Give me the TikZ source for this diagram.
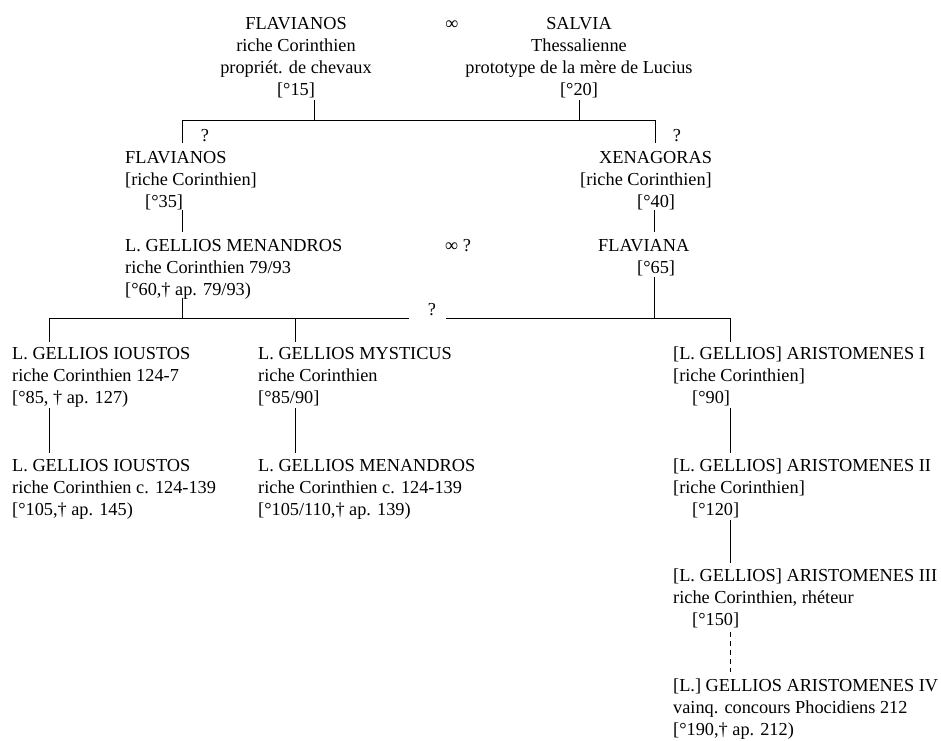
\documentclass[tikz,border=0pt]{standalone}
\usepackage{fontspec}
\setmainfont{Liberation Serif}
\newcommand{\blkL}[1]{\begin{tabular}[t]{@{}l@{}}#1\end{tabular}}
\newcommand{\blkC}[1]{\begin{tabular}[t]{@{}c@{}}#1\end{tabular}}
\begin{document}
\begin{tikzpicture}[x=1pt,y=-1pt,
  every node/.style={inner sep=0pt,font=\fontsize{18.3}{22}\selectfont},
  person/.style={anchor=base west},
  cperson/.style={anchor=base},
  link/.style={line width=0.8pt},
  dlink/.style={line width=0.8pt,dash pattern=on 5pt off 4pt}]
\useasboundingbox (0,0) rectangle (941,740);
% generation 1
\node[cperson] (fl0) at (296,29) {\blkC{FLAVIANOS\\riche Corinthien\\propriét. de chevaux\\{}[°15]}};
\node[cperson] (inf1) at (452,29) {∞};
\node[cperson] (sal) at (579,29) {\blkC{SALVIA\\Thessalienne\\prototype de la mère de Lucius\\{}[°20]}};
\coordinate (a1) at (314,100); \coordinate (a2) at (314,120);
\coordinate (b1) at (579,100); \coordinate (b2) at (579,120);
\coordinate (h1) at (182,120); \coordinate (h2) at (655,120);
\coordinate (h3) at (182,143); \coordinate (h4) at (655,143);
\draw[link] (a1) -- (a2);
\draw[link] (b1) -- (b2);
\draw[link] (h3) -- (h1) -- (h2) -- (h4);
\node[cperson] (q1) at (205,141) {?};
\node[cperson] (q2) at (677,141) {?};
% generation 2
\node[person] (fl1) at (125,163) {\blkL{FLAVIANOS\\{}[riche Corinthien]\\\hspace*{20pt}[°35]}};
\node[person] (xen) at (580,163) {\blkL{\hspace*{19pt}XENAGORAS\\{}[riche Corinthien]\\\hspace*{57pt}[°40]}};
\coordinate (c1) at (182,210); \coordinate (c2) at (182,232);
\coordinate (d1) at (654,210); \coordinate (d2) at (654,232);
\draw[link] (c1) -- (c2);
\draw[link] (d1) -- (d2);
% generation 3
\node[person] (men) at (125,251) {\blkL{L. GELLIOS MENANDROS\\riche Corinthien 79/93\\{}[°60,† ap. 79/93)}};
\node[person] (inf2) at (445,251) {∞ ?};
\node[person] (flv) at (598,251) {\blkL{FLAVIANA\\\hspace*{39pt}[°65]}};
\coordinate (e1) at (182,298); \coordinate (e2) at (182,318);
\coordinate (f1) at (654,277); \coordinate (f2) at (654,318);
\draw[link] (e1) -- (e2);
\draw[link] (f1) -- (f2);
\coordinate (g1) at (49,318); \coordinate (g2) at (409,318);
\coordinate (g3) at (446,318); \coordinate (g4) at (730,318);
\draw[link] (g1) -- (g2);
\draw[link] (g3) -- (g4);
\node[cperson] (q3) at (432,315) {?};
\coordinate (k1) at (295,318);
\coordinate (t1) at (49,342); \coordinate (t2) at (295,342); \coordinate (t3) at (730,342);
\draw[link] (g1) -- (t1);
\draw[link] (k1) -- (t2);
\draw[link] (g4) -- (t3);
% generation 4
\node[person] (iou1) at (12,359) {\blkL{L. GELLIOS IOUSTOS\\riche Corinthien 124-7\\{}[°85, † ap. 127)}};
\node[person] (mys) at (258,359) {\blkL{L. GELLIOS MYSTICUS\\riche Corinthien\\{}[°85/90]}};
\node[person] (ar1) at (673,359) {\blkL{[L. GELLIOS] ARISTOMENES I\\{}[riche Corinthien]\\\hspace*{19pt}[°90]}};
\coordinate (m1) at (49,408); \coordinate (m2) at (49,453);
\coordinate (n1) at (295,408); \coordinate (n2) at (295,453);
\coordinate (p1) at (730,408); \coordinate (p2) at (730,453);
\draw[link] (m1) -- (m2);
\draw[link] (n1) -- (n2);
\draw[link] (p1) -- (p2);
% generation 5
\node[person] (iou2) at (12,471) {\blkL{L. GELLIOS IOUSTOS\\riche Corinthien c. 124-139\\{}[°105,† ap. 145)}};
\node[person] (men2) at (258,471) {\blkL{L. GELLIOS MENANDROS\\riche Corinthien c. 124-139\\{}[°105/110,† ap. 139)}};
\node[person] (ar2) at (673,471) {\blkL{[L. GELLIOS] ARISTOMENES II\\{}[riche Corinthien]\\\hspace*{19pt}[°120]}};
\coordinate (r1) at (730,520); \coordinate (r2) at (730,563);
\draw[link] (r1) -- (r2);
% generation 6
\node[person] (ar3) at (673,581) {\blkL{[L. GELLIOS] ARISTOMENES III\\riche Corinthien, rhéteur\\\hspace*{19pt}[°150]}};
\coordinate (s1) at (730,632); \coordinate (s2) at (730,672);
\draw[dlink] (s1) -- (s2);
% generation 7
\node[person] (ar4) at (673,691) {\blkL{[L.] GELLIOS ARISTOMENES IV\\vainq. concours Phocidiens 212\\{}[°190,† ap. 212)}};
\end{tikzpicture}
\end{document}
